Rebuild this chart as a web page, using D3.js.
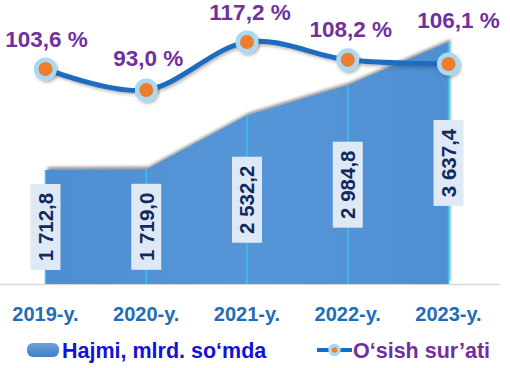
<!DOCTYPE html>
<html><head><meta charset="utf-8">
<script src="https://cdn.jsdelivr.net/npm/d3@7"></script>
<style>body{margin:0;background:#fff}svg{display:block;font-family:"Liberation Sans",Arial,sans-serif}</style>
</head><body><svg id="c" width="510" height="368"></svg>
<script>
const categories = ["2019-y.","2020-y.","2021-y.","2022-y.","2023-y."];
const volume = [1712.8, 1719.0, 2532.2, 2984.8, 3637.4];
const volumeLabels = ["1 712,8","1 719,0","2 532,2","2 984,8","3 637,4"];
const growth = [103.6, 93.0, 117.2, 108.2, 106.1];
const growthLabels = ["103,6 %","93,0 %","117,2 %","108,2 %","106,1 %"];
const legendNames = ["Hajmi, mlrd. so‘mda","O‘sish sur’ati"];

// layout (not data)
const growthLabelDx = [1, 2, 3, 3, 10];
const growthLabelDy = [-22, -24, -22, -23, -36];

const svg = d3.select("#c");
const defs = svg.append("defs");
const sh = defs.append("filter").attr("id","shA").attr("x","-10%").attr("y","-20%").attr("width","130%").attr("height","140%");
sh.append("feDropShadow").attr("dx",2).attr("dy",-3).attr("stdDeviation",1.8).attr("flood-color","#555").attr("flood-opacity",0.6);
const sh2 = defs.append("filter").attr("id","shL").attr("x","-10%").attr("y","-30%").attr("width","130%").attr("height","170%");
sh2.append("feDropShadow").attr("dx",1.5).attr("dy",2).attr("stdDeviation",1.5).attr("flood-color","#333").attr("flood-opacity",0.35);
const gr = defs.append("linearGradient").attr("id","gA").attr("x1",0).attr("x2",1).attr("y1",0).attr("y2",0);
gr.append("stop").attr("offset","0%").attr("stop-color","#4e8dd1");
gr.append("stop").attr("offset","50%").attr("stop-color","#5596d8");
gr.append("stop").attr("offset","100%").attr("stop-color","#4f8ed2");
const gl = defs.append("linearGradient").attr("id","gL").attr("x1",0).attr("x2",0).attr("y1",0).attr("y2",1);
gl.append("stop").attr("offset","0%").attr("stop-color","#6aa2dc");
gl.append("stop").attr("offset","100%").attr("stop-color","#3f7fc6");

const x = d3.scalePoint().domain(categories).range([45.5, 448.5]);
const yA = d3.scaleLinear().domain([0, 4000]).range([284, 17.8]);
const yL = d3.scaleLinear().domain([60, 130]).range([155.4, 16.6]);

// baseline
svg.append("line").attr("x1",0).attr("x2",500).attr("y1",284.5).attr("y2",284.5)
  .attr("stroke","#d9d9d9").attr("stroke-width",1.5);

// area
const area = d3.area().x((d,i)=>x(categories[i])).y0(yA(0)).y1(d=>yA(d));
svg.append("path").datum(volume).attr("d",area).attr("fill","url(#gA)").attr("filter","url(#shA)");

// drop lines
svg.selectAll(".drop").data(volume).join("line")
  .attr("x1",(d,i)=>x(categories[i])).attr("x2",(d,i)=>x(categories[i]))
  .attr("y1",yA(0)).attr("y2",d=>yA(d))
  .attr("stroke","#33c6e8").attr("stroke-width",1.5);

// value labels
const vl = svg.selectAll(".vl").data(volume).join("g")
  .attr("transform",(d,i)=>`translate(${x(categories[i])},${(yA(d)+yA(0))/2}) rotate(-90)`);
vl.append("rect").attr("x",-43).attr("y",-15).attr("width",86).attr("height",30).attr("fill","#dfe9f5");
vl.append("text").text((d,i)=>volumeLabels[i]).attr("text-anchor","middle").attr("dy","0.36em")
  .attr("font-size",20.5).attr("font-weight","bold").attr("fill","#102a5c");

// line
const line = d3.line().x((d,i)=>x(categories[i])).y(d=>yL(d)).curve(d3.curveCardinal.tension(0));
svg.append("path").datum(growth).attr("d",line).attr("fill","none").attr("stroke","#1a6cc0")
  .attr("stroke-width",5).attr("filter","url(#shL)");
svg.selectAll(".pt").data(growth).join("circle")
  .attr("cx",(d,i)=>x(categories[i])).attr("cy",d=>yL(d)).attr("r",9.3)
  .attr("fill","#ee7d2e").attr("stroke","#a8daf3").attr("stroke-width",4.5).attr("filter","url(#shL)");
svg.selectAll(".gl").data(growth).join("text")
  .attr("x",(d,i)=>x(categories[i])+growthLabelDx[i]).attr("y",(d,i)=>yL(d)+growthLabelDy[i])
  .attr("text-anchor","middle").attr("font-size",22.5).attr("font-weight","bold").attr("fill","#7030a0")
  .text((d,i)=>growthLabels[i]);

// x axis labels
svg.selectAll(".xl").data(categories).join("text")
  .attr("x",d=>x(d)).attr("y",321).attr("text-anchor","middle")
  .attr("font-size",20).attr("font-weight","bold").attr("fill","#1e6db8").text(d=>d);

// legend
svg.append("rect").attr("x",27).attr("y",343).attr("width",32).attr("height",14).attr("rx",6)
  .attr("fill","url(#gL)");
svg.append("text").attr("x",62).attr("y",358).attr("font-size",21.5).attr("font-weight","bold")
  .attr("fill","#1212d8").text(legendNames[0]);
svg.append("line").attr("x1",317).attr("x2",352).attr("y1",350).attr("y2",350).attr("stroke","#1a6cc0").attr("stroke-width",4);
svg.append("circle").attr("cx",334.5).attr("cy",350).attr("r",4.5).attr("fill","#ee7d2e").attr("stroke","#a8daf3").attr("stroke-width",3.5);
svg.append("text").attr("x",353).attr("y",358).attr("font-size",21.5).attr("font-weight","bold")
  .attr("fill","#7030a0").text(legendNames[1]);
</script></body></html>
